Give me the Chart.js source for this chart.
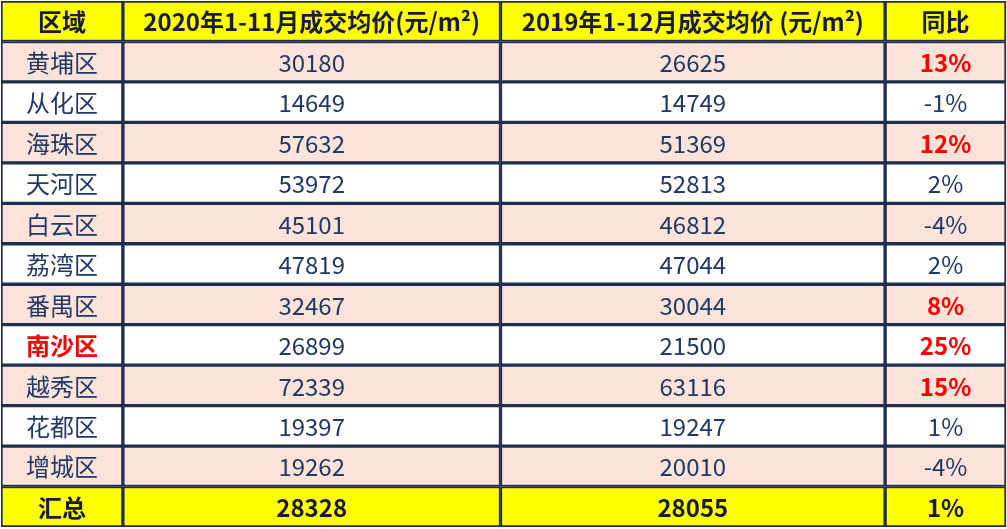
<!DOCTYPE html>
<html><head><meta charset="utf-8">
<script src="https://cdn.jsdelivr.net/npm/chart.js@4"></script>
<style>html,body{margin:0;padding:0;background:#fff}#w{width:1007px;height:529px}</style>
</head><body><div id="w"><canvas id="c" width="1007" height="529"></canvas></div>
<script>
const headers = ['区域','2020年1-11月成交均价(元/m²)','2019年1-12月成交均价 (元/m²)','同比'];
const districts = ['黄埔区','从化区','海珠区','天河区','白云区','荔湾区','番禺区','南沙区','越秀区','花都区','增城区','汇总'];
const price2020 = [30180,14649,57632,53972,45101,47819,32467,26899,72339,19397,19262,28328];
const price2019 = [26625,14749,51369,52813,46812,47044,30044,21500,63116,19247,20010,28055];
const yoy = ['13%','-1%','12%','2%','-4%','2%','8%','25%','15%','1%','-4%','1%'];
const highlightYoy = [true,false,true,false,false,false,true,true,true,false,false,false];
const highlightDistrict = ['南沙区'];

const colEdges = [0,122,500,885,1006];
const rowLabels = ['hdr', ...districts];
const rowColor = rowLabels.map((r,i)=> i===0 || i===rowLabels.length-1 ? '#FFFF00' : (i%2===1 ? '#FBE3DA' : '#FFFFFF'));
const cellText = [
  [headers[0], ...districts],
  [headers[1], ...price2020.map(String)],
  [headers[2], ...price2019.map(String)],
  [headers[3], ...yoy]
];
const navy = '#1F2E4F', textCol = '#203864';
const datasets = colEdges.slice(0,-1).map((e,ci)=>({
  data: rowLabels.map(()=>[colEdges[ci], colEdges[ci+1]]),
  backgroundColor: rowColor, borderColor: navy, borderWidth: 2, borderSkipped: false,
  barPercentage: 1, categoryPercentage: 1, grouped: false
}));
const textPlugin = {
  id:'txt',
  afterDatasetsDraw(chart){
    const ctx = chart.ctx;
    ctx.save(); ctx.textAlign='center'; ctx.textBaseline='middle';
    chart.data.datasets.forEach((ds,ci)=>{
      chart.getDatasetMeta(ci).data.forEach((el,ri)=>{
        const p = el.getProps(['x','base','y'],true);
        const cx = (p.x+p.base)/2, cy = p.y;
        const t = cellText[ci][ri];
        let bold = ri===0 || ri===rowLabels.length-1;
        let col = textCol;
        if (ri>0 && ri<rowLabels.length-1) {
          if (ci===3 && highlightYoy[ri-1]) { bold=true; col='#FF0000'; }
          if (ci===0 && highlightDistrict.includes(t)) { bold=true; col='#FF0000'; }
        }
        if (ri===0 || ri===rowLabels.length-1) col = '#1A1A3A';
        ctx.font = (bold?'bold ':'')+'24px "Noto Sans CJK SC", "Open Sans", sans-serif';
        ctx.fillStyle = col;
        ctx.fillText(t, cx, cy+1);
      });
    });
    ctx.restore();
  }
};
new Chart(document.getElementById('c'), {
  type:'bar',
  data:{ labels: rowLabels, datasets },
  options:{
    indexAxis:'y', responsive:false, animation:false,
    layout:{padding:{left:1,right:0,top:1,bottom:2}},
    plugins:{legend:{display:false}, tooltip:{enabled:false}},
    scales:{
      x:{type:'linear', min:0, max:1007, display:false},
      y:{type:'category', display:false, offset:true}
    }
  },
  plugins:[textPlugin]
});
</script></body></html>
